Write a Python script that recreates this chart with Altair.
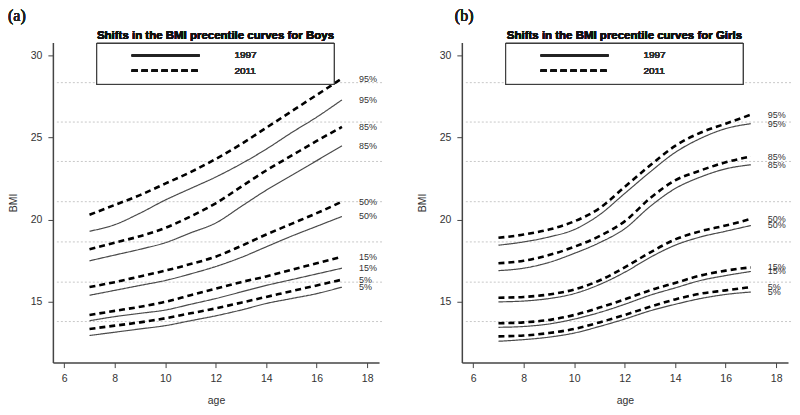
import altair as alt
import pandas as pd

# ---------------- data ----------------
ages = [7, 8, 9, 10, 11, 12, 13, 14, 15, 16, 17]
percentiles = ["95%", "85%", "50%", "15%", "5%"]
years = ["1997", "2011"]

boys_95_1997 = [19.3, 19.7, 20.4, 21.2, 21.9, 22.6, 23.4, 24.3, 25.3, 26.25, 27.3]
boys_95_2011 = [20.3, 20.9, 21.5, 22.2, 22.9, 23.7, 24.6, 25.6, 26.6, 27.6, 28.6]
boys_85_1997 = [17.5, 17.85, 18.2, 18.6, 19.2, 19.8, 20.8, 21.8, 22.7, 23.6, 24.5]
boys_85_2011 = [18.2, 18.6, 19.0, 19.5, 20.2, 21.0, 22.0, 23.0, 23.9, 24.8, 25.65]
boys_50_1997 = [15.4, 15.7, 16.0, 16.3, 16.7, 17.15, 17.7, 18.35, 19.0, 19.6, 20.2]
boys_50_2011 = [15.9, 16.2, 16.55, 16.9, 17.3, 17.75, 18.4, 19.1, 19.75, 20.4, 21.1]
boys_15_1997 = [13.85, 14.1, 14.3, 14.5, 14.85, 15.2, 15.6, 16.0, 16.35, 16.7, 17.05]
boys_15_2011 = [14.2, 14.45, 14.7, 15.0, 15.4, 15.8, 16.2, 16.55, 16.95, 17.35, 17.75]
boys_5_1997 = [12.95, 13.15, 13.35, 13.55, 13.85, 14.15, 14.5, 14.9, 15.2, 15.5, 15.9]
boys_5_2011 = [13.35, 13.55, 13.75, 14.0, 14.3, 14.6, 14.95, 15.3, 15.65, 16.0, 16.35]

girls_95_1997 = [18.45, 18.65, 18.95, 19.4, 20.3, 21.6, 22.9, 24.1, 24.95, 25.55, 25.85]
girls_95_2011 = [18.9, 19.1, 19.4, 19.9, 20.7, 22.0, 23.3, 24.5, 25.3, 25.85, 26.4]
girls_85_1997 = [16.9, 17.05, 17.4, 17.95, 18.6, 19.45, 20.8, 21.9, 22.6, 23.1, 23.35]
girls_85_2011 = [17.35, 17.5, 17.85, 18.35, 19.0, 19.9, 21.3, 22.4, 23.0, 23.5, 23.85]
girls_50_1997 = [15.0, 15.05, 15.2, 15.5, 16.05, 16.8, 17.7, 18.45, 18.95, 19.3, 19.65]
girls_50_2011 = [15.25, 15.3, 15.45, 15.75, 16.3, 17.1, 18.0, 18.8, 19.3, 19.65, 20.05]
girls_15_1997 = [13.45, 13.5, 13.65, 13.95, 14.35, 14.85, 15.4, 15.85, 16.3, 16.6, 16.85]
girls_15_2011 = [13.7, 13.75, 13.9, 14.2, 14.65, 15.15, 15.7, 16.15, 16.6, 16.9, 17.1]
girls_5_1997 = [12.6, 12.7, 12.85, 13.1, 13.5, 13.95, 14.45, 14.85, 15.2, 15.45, 15.6]
girls_5_2011 = [12.9, 12.95, 13.1, 13.35, 13.75, 14.2, 14.7, 15.15, 15.5, 15.7, 15.9]

grid_values = [13.8, 16.2, 18.65, 21.1, 23.55, 25.95, 28.35]
x_ticks = [6, 8, 10, 12, 14, 16, 18]
y_ticks = [15, 20, 25, 30]

boys_series = {
    ("95%", "1997"): boys_95_1997, ("95%", "2011"): boys_95_2011,
    ("85%", "1997"): boys_85_1997, ("85%", "2011"): boys_85_2011,
    ("50%", "1997"): boys_50_1997, ("50%", "2011"): boys_50_2011,
    ("15%", "1997"): boys_15_1997, ("15%", "2011"): boys_15_2011,
    ("5%", "1997"): boys_5_1997, ("5%", "2011"): boys_5_2011,
}
girls_series = {
    ("95%", "1997"): girls_95_1997, ("95%", "2011"): girls_95_2011,
    ("85%", "1997"): girls_85_1997, ("85%", "2011"): girls_85_2011,
    ("50%", "1997"): girls_50_1997, ("50%", "2011"): girls_50_2011,
    ("15%", "1997"): girls_15_1997, ("15%", "2011"): girls_15_2011,
    ("5%", "1997"): girls_5_1997, ("5%", "2011"): girls_5_2011,
}


def to_frame(series):
    rows = []
    for (p, yr), vals in series.items():
        for a, v in zip(ages, vals):
            rows.append({"age": a, "bmi": v, "pct": p, "year": yr, "series": p + "_" + yr})
    return pd.DataFrame(rows)


FONT = "Liberation Sans"
W, H = 327, 321
xscale = alt.Scale(domain=[5.55, 18.47], nice=False, zero=False)
yscale = alt.Scale(domain=[11.3, 30.8], nice=False, zero=False)
xaxis = alt.Axis(values=x_ticks, title="age", format="d")
yaxis = alt.Axis(values=y_ticks, title="BMI", format="d")


def panel(series, legend_title, tag, tag_x):
    df = to_frame(series)
    last = df[df["age"] == ages[-1]]
    grid_df = pd.DataFrame({"bmi": grid_values})

    xenc = alt.X("age:Q", scale=xscale, axis=xaxis)
    yenc = alt.Y("bmi:Q", scale=yscale, axis=yaxis)

    grid = alt.Chart(grid_df).mark_rule(color="#c8c8c8", strokeDash=[2, 2], strokeWidth=1).encode(
        y=yenc, x=alt.value(4), x2=alt.value(W + 3))

    lines = alt.Chart(df).mark_line(interpolate="monotone").encode(
        x=xenc, y=yenc, detail="series:N",
        color=alt.Color("year:N", scale=alt.Scale(domain=years, range=["#4a4a4a", "#000000"]), legend=None),
        strokeDash=alt.StrokeDash("year:N", scale=alt.Scale(domain=years, range=[[1, 0], [6, 4]]), legend=None),
        strokeWidth=alt.StrokeWidth("year:N", scale=alt.Scale(domain=years, range=[1.2, 2.6]), legend=None),
    )

    labels = alt.Chart(last).mark_text(align="left", baseline="middle", dx=17, fontSize=9,
                                       font=FONT, color="#333").encode(
        x=xenc, y=yenc, text="pct:N")

    box = alt.Chart(grid_df).mark_rect(fill="white", stroke="#333", strokeWidth=1).encode(
        x=alt.value(44), x2=alt.value(282), y=alt.value(1), y2=alt.value(42))

    ltitle = alt.Chart(grid_df).mark_text(text=legend_title, fontWeight="bold", fontSize=11.5,
                                         font=FONT, align="center", baseline="bottom", color="#111").encode(
        x=alt.value(163), y=alt.value(-1))

    lsolid = alt.Chart(grid_df).mark_rule(color="#222", strokeWidth=2).encode(
        x=alt.value(79), x2=alt.value(147), y=alt.value(13))
    ldash = alt.Chart(grid_df).mark_rule(color="#111", strokeWidth=2.5, strokeDash=[6, 4]).encode(
        x=alt.value(79), x2=alt.value(147), y=alt.value(28.5))
    t1997 = alt.Chart(grid_df).mark_text(text=years[0], fontSize=10, font=FONT, align="left",
                                        baseline="middle", color="#333").encode(
        x=alt.value(182), y=alt.value(13))
    t2011 = alt.Chart(grid_df).mark_text(text=years[1], fontSize=10, font=FONT, align="left",
                                        baseline="middle", color="#333").encode(
        x=alt.value(182), y=alt.value(28.5))

    tagtxt = alt.Chart(grid_df).mark_text(text=tag, fontSize=16, font="Liberation Serif", align="left",
                                         baseline="top", color="#222").encode(
        x=alt.value(tag_x), y=alt.value(-34))

    return alt.layer(grid, lines, labels, box, ltitle, lsolid, ldash, t1997, t2011, tagtxt).properties(
        width=W, height=H)


left = panel(boys_series, "Shifts in the BMI precentile curves for Boys", "(a)", -45)
right = panel(girls_series, "Shifts in the BMI precentile curves for Girls", "(b)", -7)

chart = alt.hconcat(left, right, spacing=34).properties(
    padding={"left": 0, "top": 0, "right": 0, "bottom": 0}
).configure_view(stroke=None).configure_axis(
    grid=False, domainColor="#444", domainWidth=1.5, tickColor="#444", tickSize=5, tickWidth=1,
    labelColor="#333", titleColor="#333", labelFont=FONT, titleFont=FONT,
    labelFontSize=10.5, titleFontSize=10.5, titleFontWeight="normal",
).configure_axisX(labelPadding=6, titlePadding=12).configure_axisY(
    labelPadding=6, titlePadding=12)

chart.save("out.html", embed_options={"renderer": "svg", "actions": False})
